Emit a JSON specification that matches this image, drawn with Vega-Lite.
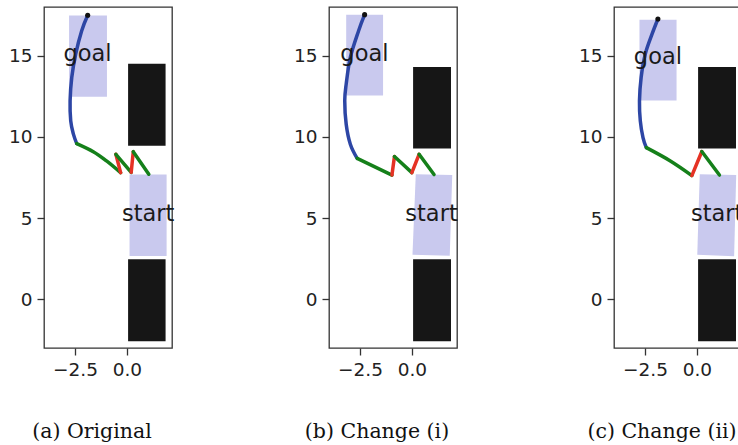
{
  "$schema": "https://vega.github.io/schema/vega-lite/v6.json",
  "background": "white",
  "padding": {"left": 7, "top": 6, "right": 0, "bottom": 0},
  "bounds": "flush",
  "spacing": 157,
  "datasets": {
    "rects": [
      {"panel": "a", "x": -2.79, "x2": -0.96, "y": 12.47, "y2": 17.47, "kind": "zone"},
      {"panel": "a", "x": 0.06, "x2": 1.87, "y": 9.45, "y2": 14.5, "kind": "obstacle"},
      {"panel": "a", "x": 0.06, "x2": 1.87, "y": -2.59, "y2": 2.47, "kind": "obstacle"},
      {"panel": "b", "x": -3.17, "x2": -1.39, "y": 12.55, "y2": 17.53, "kind": "zone"},
      {"panel": "b", "x": 0.06, "x2": 1.89, "y": 9.28, "y2": 14.3, "kind": "obstacle"},
      {"panel": "b", "x": 0.06, "x2": 1.89, "y": -2.59, "y2": 2.47, "kind": "obstacle"},
      {"panel": "c", "x": -2.77, "x2": -0.98, "y": 12.24, "y2": 17.22, "kind": "zone"},
      {"panel": "c", "x": 0.06, "x2": 1.89, "y": 9.28, "y2": 14.3, "kind": "obstacle"},
      {"panel": "c", "x": 0.06, "x2": 1.89, "y": -2.59, "y2": 2.47, "kind": "obstacle"}
    ],
    "starts": [
      {"panel": "a", "o": 1, "x": 0.13, "y": 7.69},
      {"panel": "a", "o": 2, "x": 1.92, "y": 7.69},
      {"panel": "a", "o": 3, "x": 1.92, "y": 2.67},
      {"panel": "a", "o": 4, "x": 0.13, "y": 2.67},
      {"panel": "b", "o": 1, "x": 0.19, "y": 7.7},
      {"panel": "b", "o": 2, "x": 1.95, "y": 7.65},
      {"panel": "b", "o": 3, "x": 1.83, "y": 2.68},
      {"panel": "b", "o": 4, "x": 0.03, "y": 2.74},
      {"panel": "c", "o": 1, "x": 0.14, "y": 7.7},
      {"panel": "c", "o": 2, "x": 1.9, "y": 7.65},
      {"panel": "c", "o": 3, "x": 1.8, "y": 2.65},
      {"panel": "c", "o": 4, "x": 0.02, "y": 2.74}
    ],
    "paths": [
      {"panel": "a", "seg": "a1", "c": "blue", "o": 1, "x": -1.89, "y": 17.49},
      {"panel": "a", "seg": "a1", "c": "blue", "o": 2, "x": -2.18, "y": 16.54},
      {"panel": "a", "seg": "a1", "c": "blue", "o": 3, "x": -2.47, "y": 15.1},
      {"panel": "a", "seg": "a1", "c": "blue", "o": 4, "x": -2.66, "y": 13.66},
      {"panel": "a", "seg": "a1", "c": "blue", "o": 5, "x": -2.74, "y": 12.22},
      {"panel": "a", "seg": "a1", "c": "blue", "o": 6, "x": -2.71, "y": 10.99},
      {"panel": "a", "seg": "a1", "c": "blue", "o": 7, "x": -2.58, "y": 10.17},
      {"panel": "a", "seg": "a1", "c": "blue", "o": 8, "x": -2.42, "y": 9.59},
      {"panel": "a", "seg": "a2", "c": "green", "o": 1, "x": -2.42, "y": 9.59},
      {"panel": "a", "seg": "a2", "c": "green", "o": 2, "x": -1.62, "y": 9.09},
      {"panel": "a", "seg": "a2", "c": "green", "o": 3, "x": -0.98, "y": 8.52},
      {"panel": "a", "seg": "a2", "c": "green", "o": 4, "x": -0.3, "y": 7.8},
      {"panel": "a", "seg": "a3", "c": "red", "o": 1, "x": -0.3, "y": 7.8},
      {"panel": "a", "seg": "a3", "c": "red", "o": 2, "x": -0.53, "y": 8.93},
      {"panel": "a", "seg": "a4", "c": "green", "o": 1, "x": -0.53, "y": 8.93},
      {"panel": "a", "seg": "a4", "c": "green", "o": 2, "x": 0.21, "y": 7.82},
      {"panel": "a", "seg": "a5", "c": "red", "o": 1, "x": 0.21, "y": 7.82},
      {"panel": "a", "seg": "a5", "c": "red", "o": 2, "x": 0.31, "y": 9.09},
      {"panel": "a", "seg": "a6", "c": "green", "o": 1, "x": 0.31, "y": 9.09},
      {"panel": "a", "seg": "a6", "c": "green", "o": 2, "x": 1.06, "y": 7.7},
      {"panel": "b", "seg": "b1", "c": "blue", "o": 1, "x": -2.28, "y": 17.53},
      {"panel": "b", "seg": "b1", "c": "blue", "o": 2, "x": -2.57, "y": 16.54},
      {"panel": "b", "seg": "b1", "c": "blue", "o": 3, "x": -2.97, "y": 14.9},
      {"panel": "b", "seg": "b1", "c": "blue", "o": 4, "x": -3.17, "y": 13.25},
      {"panel": "b", "seg": "b1", "c": "blue", "o": 5, "x": -3.24, "y": 12.22},
      {"panel": "b", "seg": "b1", "c": "blue", "o": 6, "x": -3.17, "y": 10.78},
      {"panel": "b", "seg": "b1", "c": "blue", "o": 7, "x": -2.97, "y": 9.55},
      {"panel": "b", "seg": "b1", "c": "blue", "o": 8, "x": -2.64, "y": 8.68},
      {"panel": "b", "seg": "b2", "c": "green", "o": 1, "x": -2.64, "y": 8.68},
      {"panel": "b", "seg": "b2", "c": "green", "o": 2, "x": -0.96, "y": 7.65},
      {"panel": "b", "seg": "b3", "c": "red", "o": 1, "x": -0.96, "y": 7.65},
      {"panel": "b", "seg": "b3", "c": "red", "o": 2, "x": -0.84, "y": 8.79},
      {"panel": "b", "seg": "b4", "c": "green", "o": 1, "x": -0.84, "y": 8.79},
      {"panel": "b", "seg": "b4", "c": "green", "o": 2, "x": 0.0, "y": 7.8},
      {"panel": "b", "seg": "b5", "c": "red", "o": 1, "x": 0.0, "y": 7.8},
      {"panel": "b", "seg": "b5", "c": "red", "o": 2, "x": 0.35, "y": 8.93},
      {"panel": "b", "seg": "b6", "c": "green", "o": 1, "x": 0.35, "y": 8.93},
      {"panel": "b", "seg": "b6", "c": "green", "o": 2, "x": 1.07, "y": 7.68},
      {"panel": "c", "seg": "c1", "c": "blue", "o": 1, "x": -1.88, "y": 17.26},
      {"panel": "c", "seg": "c1", "c": "blue", "o": 2, "x": -2.16, "y": 16.34},
      {"panel": "c", "seg": "c1", "c": "blue", "o": 3, "x": -2.49, "y": 15.1},
      {"panel": "c", "seg": "c1", "c": "blue", "o": 4, "x": -2.69, "y": 13.66},
      {"panel": "c", "seg": "c1", "c": "blue", "o": 5, "x": -2.77, "y": 12.22},
      {"panel": "c", "seg": "c1", "c": "blue", "o": 6, "x": -2.73, "y": 10.99},
      {"panel": "c", "seg": "c1", "c": "blue", "o": 7, "x": -2.6, "y": 9.96},
      {"panel": "c", "seg": "c1", "c": "blue", "o": 8, "x": -2.44, "y": 9.34},
      {"panel": "c", "seg": "c2", "c": "green", "o": 1, "x": -2.44, "y": 9.34},
      {"panel": "c", "seg": "c2", "c": "green", "o": 2, "x": -1.28, "y": 8.52},
      {"panel": "c", "seg": "c2", "c": "green", "o": 3, "x": -0.24, "y": 7.62},
      {"panel": "c", "seg": "c3", "c": "red", "o": 1, "x": -0.24, "y": 7.62},
      {"panel": "c", "seg": "c3", "c": "red", "o": 2, "x": 0.24, "y": 9.1},
      {"panel": "c", "seg": "c4", "c": "green", "o": 1, "x": 0.24, "y": 9.1},
      {"panel": "c", "seg": "c4", "c": "green", "o": 2, "x": 1.09, "y": 7.65}
    ],
    "dots": [
      {"panel": "a", "x": -1.89, "y": 17.49},
      {"panel": "b", "x": -2.28, "y": 17.53},
      {"panel": "c", "x": -1.88, "y": 17.26}
    ],
    "labels": [
      {"panel": "a", "text": "goal", "x": -1.9, "y": 15.1},
      {"panel": "a", "text": "start", "x": 1.03, "y": 5.25},
      {"panel": "b", "text": "goal", "x": -2.29, "y": 15.1},
      {"panel": "b", "text": "start", "x": 0.95, "y": 5.25},
      {"panel": "c", "text": "goal", "x": -1.88, "y": 14.9},
      {"panel": "c", "text": "start", "x": 0.98, "y": 5.25}
    ]
  },
  "config": {
    "view": {"stroke": "#333333", "strokeWidth": 1.3},
    "axis": {
      "labelFont": "DejaVu Sans",
      "labelFontSize": 18.5,
      "labelColor": "#222222",
      "tickColor": "#333333",
      "tickSize": 7,
      "tickWidth": 1.3,
      "domain": false,
      "grid": false,
      "labelPadding": 5
    },
    "title": {
      "font": "DejaVu Serif",
      "fontSize": 20.5,
      "fontWeight": "normal",
      "color": "#111111",
      "orient": "bottom",
      "anchor": "middle",
      "offset": 43,
      "dx": -16
    }
  },
  "hconcat": [
    {
      "width": 128, "height": 341,
      "title": {"text": "(a) Original"},
      "layer": [
        {"data": {"name": "rects"}, "transform": [{"filter": "datum.panel == 'a'"}],
         "mark": {"type": "rect"},
         "encoding": {
           "x": {"field": "x", "type": "quantitative", "scale": {"domain": [-4, 2.18], "nice": false, "zero": false}, "axis": {"values": [-2.5, 0], "format": ".1f", "title": null}},
           "x2": {"field": "x2"},
           "y": {"field": "y", "type": "quantitative", "scale": {"domain": [-3, 18], "nice": false, "zero": false}, "axis": {"values": [0, 5, 10, 15], "format": "d", "title": null}},
           "y2": {"field": "y2"},
           "color": {"field": "kind", "type": "nominal", "scale": {"domain": ["zone", "obstacle"], "range": ["#c9c9ee", "#161616"]}, "legend": null}
         }},
        {"data": {"name": "starts"}, "transform": [{"filter": "datum.panel == 'a'"}],
         "mark": {"type": "line", "fill": "#c9c9ee", "stroke": null, "strokeWidth": 0},
         "encoding": {"x": {"field": "x", "type": "quantitative"}, "y": {"field": "y", "type": "quantitative"}, "order": {"field": "o"}}},
        {"data": {"name": "paths"}, "transform": [{"filter": "datum.panel == 'a'"}],
         "mark": {"type": "line", "strokeWidth": 3.5, "strokeCap": "round", "strokeJoin": "round", "interpolate": "cardinal"},
         "encoding": {"x": {"field": "x", "type": "quantitative"}, "y": {"field": "y", "type": "quantitative"}, "order": {"field": "o"}, "detail": {"field": "seg"},
           "stroke": {"field": "c", "type": "nominal", "scale": {"domain": ["blue", "green", "red"], "range": ["#2d46a5", "#15801a", "#e53224"]}, "legend": null}}},
        {"data": {"name": "dots"}, "transform": [{"filter": "datum.panel == 'a'"}],
         "mark": {"type": "circle", "color": "#111111", "size": 26, "opacity": 1},
         "encoding": {"x": {"field": "x", "type": "quantitative"}, "y": {"field": "y", "type": "quantitative"}}},
        {"data": {"name": "labels"}, "transform": [{"filter": "datum.panel == 'a'"}],
         "mark": {"type": "text", "font": "DejaVu Sans", "fontSize": 22.5, "color": "#1a1a1a", "align": "center", "baseline": "middle"},
         "encoding": {"x": {"field": "x", "type": "quantitative"}, "y": {"field": "y", "type": "quantitative"}, "text": {"field": "text"}}}
      ]
    },
    {
      "width": 128, "height": 341,
      "title": {"text": "(b) Change (i)"},
      "layer": [
        {"data": {"name": "rects"}, "transform": [{"filter": "datum.panel == 'b'"}],
         "mark": {"type": "rect"},
         "encoding": {
           "x": {"field": "x", "type": "quantitative", "scale": {"domain": [-4, 2.18], "nice": false, "zero": false}, "axis": {"values": [-2.5, 0], "format": ".1f", "title": null}},
           "x2": {"field": "x2"},
           "y": {"field": "y", "type": "quantitative", "scale": {"domain": [-3, 18], "nice": false, "zero": false}, "axis": {"values": [0, 5, 10, 15], "format": "d", "title": null}},
           "y2": {"field": "y2"},
           "color": {"field": "kind", "type": "nominal", "scale": {"domain": ["zone", "obstacle"], "range": ["#c9c9ee", "#161616"]}, "legend": null}
         }},
        {"data": {"name": "starts"}, "transform": [{"filter": "datum.panel == 'b'"}],
         "mark": {"type": "line", "fill": "#c9c9ee", "stroke": null, "strokeWidth": 0},
         "encoding": {"x": {"field": "x", "type": "quantitative"}, "y": {"field": "y", "type": "quantitative"}, "order": {"field": "o"}}},
        {"data": {"name": "paths"}, "transform": [{"filter": "datum.panel == 'b'"}],
         "mark": {"type": "line", "strokeWidth": 3.5, "strokeCap": "round", "strokeJoin": "round", "interpolate": "cardinal"},
         "encoding": {"x": {"field": "x", "type": "quantitative"}, "y": {"field": "y", "type": "quantitative"}, "order": {"field": "o"}, "detail": {"field": "seg"},
           "stroke": {"field": "c", "type": "nominal", "scale": {"domain": ["blue", "green", "red"], "range": ["#2d46a5", "#15801a", "#e53224"]}, "legend": null}}},
        {"data": {"name": "dots"}, "transform": [{"filter": "datum.panel == 'b'"}],
         "mark": {"type": "circle", "color": "#111111", "size": 26, "opacity": 1},
         "encoding": {"x": {"field": "x", "type": "quantitative"}, "y": {"field": "y", "type": "quantitative"}}},
        {"data": {"name": "labels"}, "transform": [{"filter": "datum.panel == 'b'"}],
         "mark": {"type": "text", "font": "DejaVu Sans", "fontSize": 22.5, "color": "#1a1a1a", "align": "center", "baseline": "middle"},
         "encoding": {"x": {"field": "x", "type": "quantitative"}, "y": {"field": "y", "type": "quantitative"}, "text": {"field": "text"}}}
      ]
    },
    {
      "width": 128, "height": 341,
      "title": {"text": "(c) Change (ii)"},
      "layer": [
        {"data": {"name": "rects"}, "transform": [{"filter": "datum.panel == 'c'"}],
         "mark": {"type": "rect"},
         "encoding": {
           "x": {"field": "x", "type": "quantitative", "scale": {"domain": [-4, 2.18], "nice": false, "zero": false}, "axis": {"values": [-2.5, 0], "format": ".1f", "title": null}},
           "x2": {"field": "x2"},
           "y": {"field": "y", "type": "quantitative", "scale": {"domain": [-3, 18], "nice": false, "zero": false}, "axis": {"values": [0, 5, 10, 15], "format": "d", "title": null}},
           "y2": {"field": "y2"},
           "color": {"field": "kind", "type": "nominal", "scale": {"domain": ["zone", "obstacle"], "range": ["#c9c9ee", "#161616"]}, "legend": null}
         }},
        {"data": {"name": "starts"}, "transform": [{"filter": "datum.panel == 'c'"}],
         "mark": {"type": "line", "fill": "#c9c9ee", "stroke": null, "strokeWidth": 0},
         "encoding": {"x": {"field": "x", "type": "quantitative"}, "y": {"field": "y", "type": "quantitative"}, "order": {"field": "o"}}},
        {"data": {"name": "paths"}, "transform": [{"filter": "datum.panel == 'c'"}],
         "mark": {"type": "line", "strokeWidth": 3.5, "strokeCap": "round", "strokeJoin": "round", "interpolate": "cardinal"},
         "encoding": {"x": {"field": "x", "type": "quantitative"}, "y": {"field": "y", "type": "quantitative"}, "order": {"field": "o"}, "detail": {"field": "seg"},
           "stroke": {"field": "c", "type": "nominal", "scale": {"domain": ["blue", "green", "red"], "range": ["#2d46a5", "#15801a", "#e53224"]}, "legend": null}}},
        {"data": {"name": "dots"}, "transform": [{"filter": "datum.panel == 'c'"}],
         "mark": {"type": "circle", "color": "#111111", "size": 26, "opacity": 1},
         "encoding": {"x": {"field": "x", "type": "quantitative"}, "y": {"field": "y", "type": "quantitative"}}},
        {"data": {"name": "labels"}, "transform": [{"filter": "datum.panel == 'c'"}],
         "mark": {"type": "text", "font": "DejaVu Sans", "fontSize": 22.5, "color": "#1a1a1a", "align": "center", "baseline": "middle"},
         "encoding": {"x": {"field": "x", "type": "quantitative"}, "y": {"field": "y", "type": "quantitative"}, "text": {"field": "text"}}}
      ]
    }
  ]
}
